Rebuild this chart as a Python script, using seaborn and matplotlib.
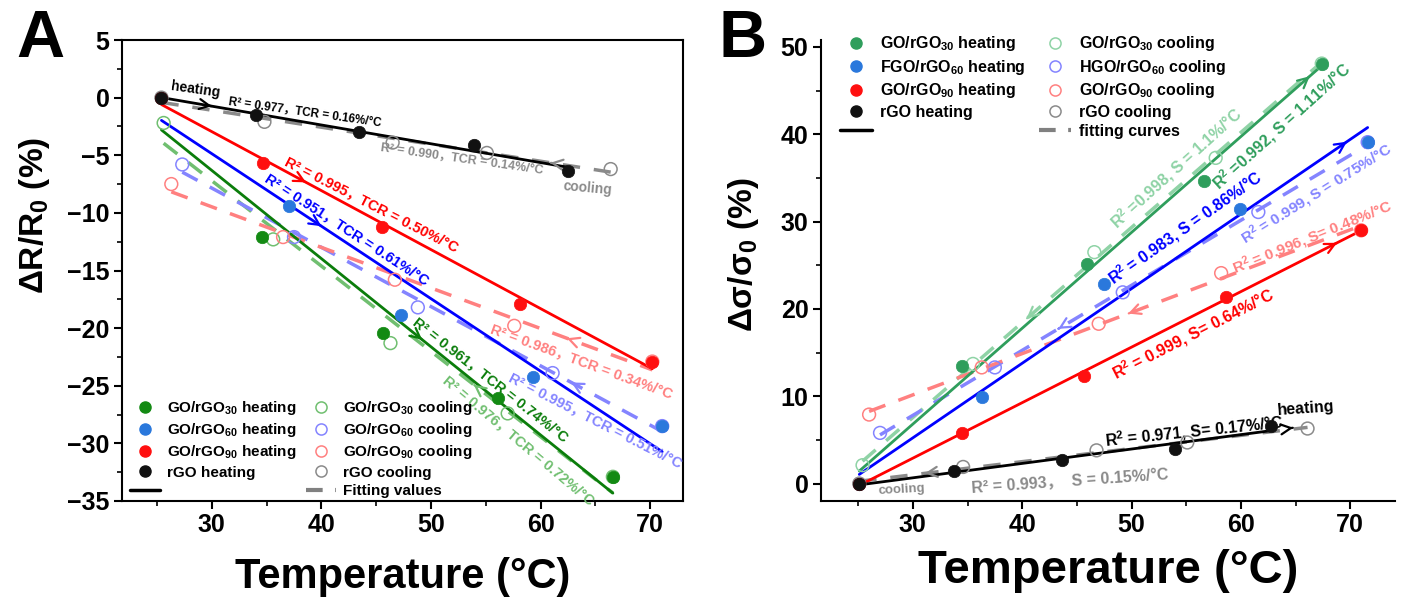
import numpy as np
import matplotlib
matplotlib.use('Agg')
import matplotlib.pyplot as plt
from matplotlib.lines import Line2D
from matplotlib.ticker import MultipleLocator
import seaborn as sns

sns.set_style('ticks')
plt.rcParams['font.family'] = ['Liberation Sans', 'Noto Sans CJK SC', 'DejaVu Sans']
plt.rcParams['font.weight'] = 'bold'
plt.rcParams['axes.labelweight'] = 'bold'
plt.rcParams['text.color'] = 'black'
plt.rcParams['axes.labelcolor'] = 'black'
plt.rcParams['xtick.color'] = 'black'
plt.rcParams['ytick.color'] = 'black'
plt.rcParams['legend.labelcolor'] = 'black'
plt.rcParams['mathtext.fontset'] = 'custom'
plt.rcParams['mathtext.rm'] = 'Liberation Sans:bold'
plt.rcParams['mathtext.bf'] = 'Liberation Sans:bold'
plt.rcParams['mathtext.it'] = 'Liberation Sans:bold:italic'
plt.rcParams['mathtext.default'] = 'bf'

# ---- panel A: dR/R0 (%) vs temperature ----
tA_go30_h = [25.4, 34.6, 45.6, 56.1, 66.6]
yA_go30_h = [0.0, -12.1, -20.4, -26.1, -32.9]
tA_go30_c = [25.6, 35.6, 46.3, 57.0, 66.6]
yA_go30_c = [-2.2, -12.3, -21.3, -27.4, -32.9]
tA_go60_h = [25.4, 37.0, 47.3, 59.3, 71.1]
yA_go60_h = [0.0, -9.4, -18.9, -24.2, -28.5]
tA_go60_c = [27.3, 37.5, 48.8, 61.1, 71.1]
yA_go60_c = [-5.8, -12.1, -18.2, -23.9, -28.5]
tA_go90_h = [25.4, 34.7, 45.5, 58.1, 70.2]
yA_go90_h = [0.0, -5.7, -11.2, -17.9, -22.9]
tA_go90_c = [26.3, 36.5, 46.7, 57.6, 70.2]
yA_go90_c = [-7.5, -12.1, -15.8, -19.8, -22.9]
tA_rgo_h = [25.4, 34.0, 43.4, 53.9, 62.5]
yA_rgo_h = [0.0, -1.5, -3.0, -4.1, -6.4]
tA_rgo_c = [25.4, 34.8, 46.5, 55.1, 66.4]
yA_rgo_c = [0.0, -2.1, -3.9, -4.8, -6.2]

# ---- panel B: d(sigma)/sigma0 (%) vs temperature ----
tB_go30_h = [25.1, 34.5, 45.9, 56.6, 67.4]
yB_go30_h = [0.0, 13.5, 25.1, 34.6, 48.1]
tB_go30_c = [25.4, 35.5, 46.6, 57.7, 67.4]
yB_go30_c = [2.1, 13.7, 26.5, 37.3, 48.1]
tB_go60_h = [25.1, 36.3, 47.5, 59.9, 71.6]
yB_go60_h = [0.0, 9.9, 22.9, 31.5, 39.1]
tB_go60_c = [27.0, 37.5, 49.2, 61.6, 71.6]
yB_go60_c = [5.8, 13.3, 21.9, 31.1, 39.1]
tB_go90_h = [25.1, 34.5, 45.7, 58.6, 71.0]
yB_go90_h = [0.0, 5.8, 12.3, 21.4, 29.0]
tB_go90_c = [26.0, 36.3, 47.0, 58.2, 71.0]
yB_go90_c = [7.9, 13.3, 18.3, 24.1, 29.0]
tB_rgo_h = [25.1, 33.8, 43.6, 54.0, 62.8]
yB_rgo_h = [0.0, 1.4, 2.7, 4.0, 6.6]
tB_rgo_c = [25.1, 34.6, 46.8, 55.1, 66.1]
yB_rgo_c = [0.0, 1.9, 3.8, 4.7, 6.3]

labelsA = ['GO/rGO$_{30}$ heating', 'GO/rGO$_{60}$ heating', 'GO/rGO$_{90}$ heating', 'rGO heating', '',
           'GO/rGO$_{30}$ cooling', 'GO/rGO$_{60}$ cooling', 'GO/rGO$_{90}$ cooling', 'rGO cooling', 'Fitting values']
labelsB = ['GO/rGO$_{30}$ heating', 'FGO/rGO$_{60}$ heating', 'GO/rGO$_{90}$ heating', 'rGO heating', '',
           'GO/rGO$_{30}$ cooling', 'HGO/rGO$_{60}$ cooling', 'GO/rGO$_{90}$ cooling', 'rGO cooling', 'fitting curves']

CJK = ['Liberation Sans', 'Noto Sans CJK SC', 'DejaVu Sans']


def heating(ax, t, y, mcolor, lcolor):
    sns.regplot(x=t, y=y, ax=ax, scatter=False, ci=None, color=lcolor,
                line_kws=dict(lw=2.0, zorder=2))
    sns.scatterplot(x=t, y=y, ax=ax, color=mcolor, s=80, edgecolor=mcolor,
                    linewidth=0.5, zorder=6)


def cooling(ax, t, y, color):
    sns.regplot(x=t, y=y, ax=ax, scatter=False, ci=None, color=color,
                line_kws=dict(lw=2.5, ls=(0, (5, 4)), zorder=1.5))
    sns.scatterplot(x=t, y=y, ax=ax, color=color, s=85, facecolor='none',
                    edgecolor=color, linewidth=1.1, zorder=5)


def chevron(ax, t, y, at, color, forward=True, size=18):
    k, b = np.polyfit(t, y, 1)
    x0 = at - 0.05 if forward else at + 0.05
    ax.annotate('', xy=(at, k * at + b), xytext=(x0, k * x0 + b),
                arrowprops=dict(arrowstyle='->', color=color, lw=1.6,
                                mutation_scale=size, shrinkA=0, shrinkB=0))


def note(ax, x, y, s, color, rot, size=10):
    ax.text(x, y, s, color=color, rotation=rot, rotation_mode='anchor',
            ha='left', va='center', fontsize=size, fontweight='bold', family=CJK)


def legend(ax, mcolors, ccolors, labels, fs, cs, **kw):
    hs = [Line2D([], [], ls='none', marker='o', ms=8, color=c) for c in mcolors]
    hs.append(Line2D([], [], color='black', lw=2.5))
    hs += [Line2D([], [], ls='none', marker='o', ms=8, mfc='none', mec=c, mew=1.1) for c in ccolors]
    hs.append(Line2D([], [], color='gray', lw=3, ls=(0, (4, 3))))
    ax.legend(hs, labels, ncol=2, frameon=False, fontsize=fs, handlelength=2.0,
              handletextpad=0.45, columnspacing=cs, labelspacing=0.28, **kw)


fig = plt.figure(figsize=(14.01, 6.08), dpi=100)
axA = fig.add_axes([122 / 1401, 1 - 501 / 608, 561 / 1401, 461 / 608])
axB = fig.add_axes([821 / 1401, 1 - 501 / 608, 574 / 1401, 461 / 608])

# panel A colours
gA, gAl, gAc = '#138a13', '#0b7d0b', '#70bf70'
bA, bAl, bAc = '#2a78dc', '#0000ff', '#8484ff'
rA, rAl, rAc = '#ff1010', '#ff0000', '#ff8080'
kA, kAc = '#111111', '#8a8a8a'

cooling(axA, tA_go30_c, yA_go30_c, gAc)
cooling(axA, tA_go60_c, yA_go60_c, bAc)
cooling(axA, tA_go90_c, yA_go90_c, rAc)
cooling(axA, tA_rgo_c, yA_rgo_c, kAc)
heating(axA, tA_go30_h, yA_go30_h, gA, gAl)
heating(axA, tA_go60_h, yA_go60_h, bA, bAl)
heating(axA, tA_go90_h, yA_go90_h, rA, rAl)
heating(axA, tA_rgo_h, yA_rgo_h, kA, 'black')

chevron(axA, tA_rgo_h, yA_rgo_h, 30.0, 'black')
chevron(axA, tA_go90_h, yA_go90_h, 38.6, rAl)
chevron(axA, tA_go60_h, yA_go60_h, 40.0, bAl)
chevron(axA, tA_go30_h, yA_go30_h, 49.2, gAl)
chevron(axA, tA_go30_c, yA_go30_c, 53.9, gAc, forward=False)
chevron(axA, tA_go90_c, yA_go90_c, 62.4, rAc, forward=False)
chevron(axA, tA_go60_c, yA_go60_c, 62.8, bAc, forward=False)
chevron(axA, tA_rgo_c, yA_rgo_c, 60.9, kAc, forward=False)

note(axA, 26.3, 1.0, 'heating', 'black', -8, 10)
note(axA, 31.5, -0.3, 'R² = 0.977，TCR = 0.16%/°C', 'black', -8, 8.5)
note(axA, 45.4, -4.3, 'R² = 0.990，TCR = 0.14%/°C', kAc, -8, 9)
note(axA, 62.1, -7.7, 'cooling', kAc, -5, 10)
note(axA, 36.7, -5.5, 'R² = 0.995，TCR = 0.50%/°C', rAl, -27, 10.5)
note(axA, 35.0, -6.9, 'R² = 0.951，TCR = 0.61%/°C', bAl, -33, 10.5)
note(axA, 48.5, -19.3, 'R² = 0.961，TCR = 0.74%/°C', gAl, -38, 10.5)
note(axA, 51.3, -24.4, 'R² = 0.976，TCR = 0.72%/°C', gAc, -40, 10.5)
note(axA, 55.5, -20.0, 'R² = 0.986，TCR = 0.34%/°C', rAc, -20, 10.5)
note(axA, 57.2, -24.2, 'R² = 0.995，TCR = 0.51%/°C', bAc, -27, 10.5)

legend(axA, [gA, bA, rA, kA], [gAc, bAc, rAc, kAc], labelsA, 11, 0.6,
       loc='lower left', bbox_to_anchor=(0.0, -0.01), borderaxespad=0.1)

axA.set_xlim(21.8, 73.0)
axA.set_ylim(-35, 5)
axA.yaxis.set_major_locator(MultipleLocator(5))
axA.yaxis.set_minor_locator(MultipleLocator(2.5))
axA.set_ylabel('ΔR/R$_0$ (%)', fontsize=24)
axA.yaxis.set_label_coords(-0.125, 0.62)
axA.set_xlabel('Temperature (°C)', fontsize=30, labelpad=14)

# panel B colours
gB, gBc = '#2f9e5c', '#8fd3a6'
bB, bBl, bBc = '#2a78dc', '#0000ff', '#8484ff'
rB, rBl, rBc = '#ff1010', '#ff0000', '#ff8080'
kB, kBc = '#111111', '#8a8a8a'

cooling(axB, tB_go30_c, yB_go30_c, gBc)
cooling(axB, tB_go60_c, yB_go60_c, bBc)
cooling(axB, tB_go90_c, yB_go90_c, rBc)
cooling(axB, tB_rgo_c, yB_rgo_c, kBc)
heating(axB, tB_go30_h, yB_go30_h, gB, gB)
heating(axB, tB_go60_h, yB_go60_h, bB, bBl)
heating(axB, tB_go90_h, yB_go90_h, rB, rBl)
heating(axB, tB_rgo_h, yB_rgo_h, kB, 'black')

chevron(axB, tB_go30_h, yB_go30_h, 66.3, gB)
chevron(axB, tB_go60_h, yB_go60_h, 69.7, bBl)
chevron(axB, tB_go90_h, yB_go90_h, 68.8, rBl)
chevron(axB, tB_rgo_h, yB_rgo_h, 64.8, 'black')
chevron(axB, tB_go30_c, yB_go30_c, 40.4, gBc, forward=False)
chevron(axB, tB_go60_c, yB_go60_c, 43.3, bBc, forward=False)
chevron(axB, tB_go90_c, yB_go90_c, 49.7, rBc, forward=False)
chevron(axB, tB_rgo_c, yB_rgo_c, 31.1, kBc, forward=False)

note(axB, 48.3, 29.6, 'R$^2$ =0.998, S = 1.1%/°C', gBc, 42, 11.5)
note(axB, 57.6, 34.0, 'R$^2$ =0.992, S = 1.11%/°C', gB, 42, 11.5)
note(axB, 48.0, 23.3, 'R$^2$ = 0.983, S = 0.86%/°C', bBl, 35, 11.5)
note(axB, 60.2, 27.9, 'R$^2$ = 0.999, S = 0.75%/°C', bBc, 32, 11)
note(axB, 59.3, 24.5, 'R$^2$ = 0.996, S= 0.48%/°C', rBc, 22, 11)
note(axB, 48.3, 12.4, 'R$^2$ = 0.999, S= 0.64%/°C', rBl, 27, 11.5)
note(axB, 47.6, 4.9, 'R$^2$ = 0.971, S= 0.17%/°C', 'black', 6, 11.5)
note(axB, 63.3, 8.4, 'heating', 'black', 4, 11.5)
note(axB, 35.4, -0.5, 'R² = 0.993，  S = 0.15%/°C', kBc, 4, 11.5)
note(axB, 26.8, -0.8, 'cooling', kBc, 3, 9.5)

legend(axB, [gB, bB, rB, kB], [gBc, bBc, rBc, kBc], labelsB, 11.5, 0.9,
       loc='upper left', bbox_to_anchor=(0.02, 1.03), borderaxespad=0.1)

axB.set_xlim(21.6, 74.1)
axB.set_ylim(-2, 50.8)
axB.yaxis.set_major_locator(MultipleLocator(10))
axB.yaxis.set_minor_locator(MultipleLocator(5))
axB.set_ylabel('Δσ/σ$_0$ (%)', fontsize=24)
axB.yaxis.set_label_coords(-0.105, 0.534)
axB.set_xlabel('Temperature (°C)', fontsize=34, labelpad=8)
sns.despine(ax=axB)

for ax in (axA, axB):
    ax.xaxis.set_major_locator(MultipleLocator(10))
    ax.xaxis.set_minor_locator(MultipleLocator(5))
    ax.tick_params(which='major', direction='out', length=6, width=1.5, labelsize=18, pad=3)
    ax.tick_params(which='minor', direction='out', length=3.5, width=1.2)
    for sp in ax.spines.values():
        sp.set_linewidth(1.5)
        sp.set_color('black')
    for lab in ax.get_xticklabels() + ax.get_yticklabels():
        lab.set_fontweight('bold')

fig.text(0.012, 0.985, 'A', fontsize=48, fontweight='bold', va='top')
fig.text(0.513, 0.985, 'B', fontsize=48, fontweight='bold', va='top')

fig.savefig('out.png', dpi=100)
